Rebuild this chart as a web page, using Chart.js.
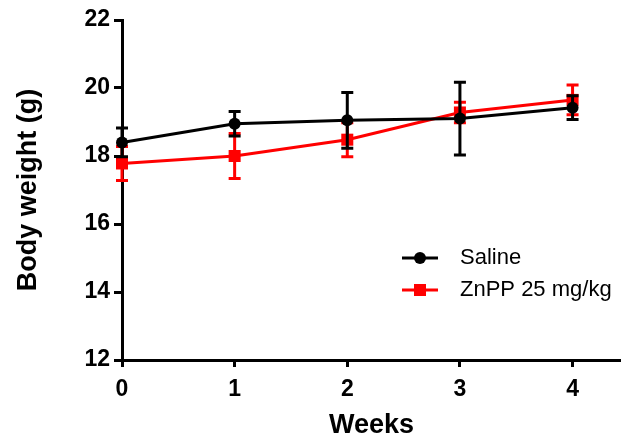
<!DOCTYPE html>
<html>
<head>
<meta charset="utf-8">
<script src="https://cdn.jsdelivr.net/npm/chart.js@4.4.1/dist/chart.umd.min.js"></script>
<style>
  html, body { margin: 0; padding: 0; background: #fff; }
  #wrap { width: 621px; height: 439px; }
</style>
</head>
<body>
<div id="wrap"><canvas id="weightChart" width="621" height="439"></canvas></div>
<script>
// values
const weeks = [0, 1, 2, 3, 4];
const yTicks = [12, 14, 16, 18, 20, 22];
const salineMean = [18.4, 18.95, 19.05, 19.1, 19.42];
const salineSem = [0.42, 0.36, 0.82, 1.07, 0.35];
const znppMean = [17.78, 18.0, 18.48, 19.28, 19.65];
const znppSem = [0.5, 0.66, 0.5, 0.3, 0.44];

const FONT = "'Liberation Sans', Arial, sans-serif";

// error bars (mean ± SEM) drawn from the scales, under each dataset's line
const errorBars = {
  id: "errorBars",
  beforeDatasetDraw(chart, args) {
    const ds = chart.data.datasets[args.index];
    const xs = chart.scales.x, ys = chart.scales.y;
    const ctx = chart.ctx;
    ctx.save();
    ctx.strokeStyle = ds.borderColor;
    ctx.lineWidth = 3;
    ds.data.forEach((pt, i) => {
      const e = ds.sem[i];
      const px = xs.getPixelForValue(pt.x);
      const top = ys.getPixelForValue(pt.y + e);
      const bot = ys.getPixelForValue(pt.y - e);
      ctx.beginPath();
      ctx.moveTo(px, top); ctx.lineTo(px, bot);
      ctx.moveTo(px - 6, top); ctx.lineTo(px + 6, top);
      ctx.moveTo(px - 6, bot); ctx.lineTo(px + 6, bot);
      ctx.stroke();
    });
    ctx.restore();
  }
};

// legend inside the plot, like the original
const insideLegend = {
  id: "insideLegend",
  afterDraw(chart) {
    const ctx = chart.ctx;
    ctx.save();
    chart.data.datasets.forEach((ds, i) => {
      const y = 258 + i * 32;
      ctx.strokeStyle = ds.borderColor;
      ctx.lineWidth = 3;
      ctx.beginPath();
      ctx.moveTo(402, y); ctx.lineTo(438, y);
      ctx.stroke();
      ctx.fillStyle = ds.borderColor;
      if (ds.pointStyle === "rect") {
        ctx.fillRect(414, y - 6, 12, 12);
      } else {
        ctx.beginPath();
        ctx.arc(420, y, 6, 0, Math.PI * 2);
        ctx.fill();
      }
      ctx.fillStyle = "#000";
      ctx.font = "22px " + FONT;
      ctx.textBaseline = "middle";
      ctx.fillText(ds.label, 460, y);
    });
    ctx.restore();
  }
};

const ctx = document.getElementById("weightChart").getContext("2d");
new Chart(ctx, {
  type: "line",
  data: {
    datasets: [
      {
        label: "Saline",
        data: weeks.map((w, i) => ({ x: w, y: salineMean[i] })),
        sem: salineSem,
        borderColor: "#000000",
        backgroundColor: "#000000",
        borderWidth: 3,
        pointStyle: "circle",
        pointRadius: 6,
        pointBorderWidth: 0,
        clip: false
      },
      {
        label: "ZnPP 25 mg/kg",
        data: weeks.map((w, i) => ({ x: w, y: znppMean[i] })),
        sem: znppSem,
        borderColor: "#ff0000",
        backgroundColor: "#ff0000",
        borderWidth: 3,
        pointStyle: "rect",
        pointRadius: 8.5,
        pointBorderWidth: 0,
        clip: false
      }
    ]
  },
  options: {
    responsive: false,
    animation: false,
    layout: { autoPadding: false, padding: { top: 20, right: 0, left: 0, bottom: 0 } },
    plugins: {
      legend: { display: false },
      tooltip: { enabled: false }
    },
    scales: {
      x: {
        type: "linear",
        min: 0,
        max: 4.43,
        afterBuildTicks: (scale) => { scale.ticks = weeks.map(v => ({ value: v })); },
        afterFit: (scale) => { scale.height = 79; },
        border: { color: "#000", width: 3 },
        grid: { drawOnChartArea: false, drawTicks: true, tickLength: 7, color: "#000", lineWidth: 3 },
        ticks: { color: "#000", padding: 9, font: { family: FONT, size: 23, weight: "bold" } },
        title: {
          display: true, text: "Weeks", color: "#000",
          font: { family: FONT, size: 27, weight: "bold" },
          padding: { top: 0, bottom: -3 }
        }
      },
      y: {
        min: 12,
        max: 22,
        afterBuildTicks: (scale) => { scale.ticks = yTicks.map(v => ({ value: v })); },
        afterFit: (scale) => { scale.width = 122; },
        border: { color: "#000", width: 3 },
        grid: { drawOnChartArea: false, drawTicks: true, tickLength: 8, color: "#000", lineWidth: 3 },
        ticks: { color: "#000", padding: 4, font: { family: FONT, size: 23, weight: "bold" } },
        title: {
          display: true, text: "Body weight (g)", color: "#000",
          font: { family: FONT, size: 27, weight: "bold" },
          padding: { top: 12, bottom: 0 }
        }
      }
    }
  },
  plugins: [errorBars, insideLegend]
});
</script>
</body>
</html>
